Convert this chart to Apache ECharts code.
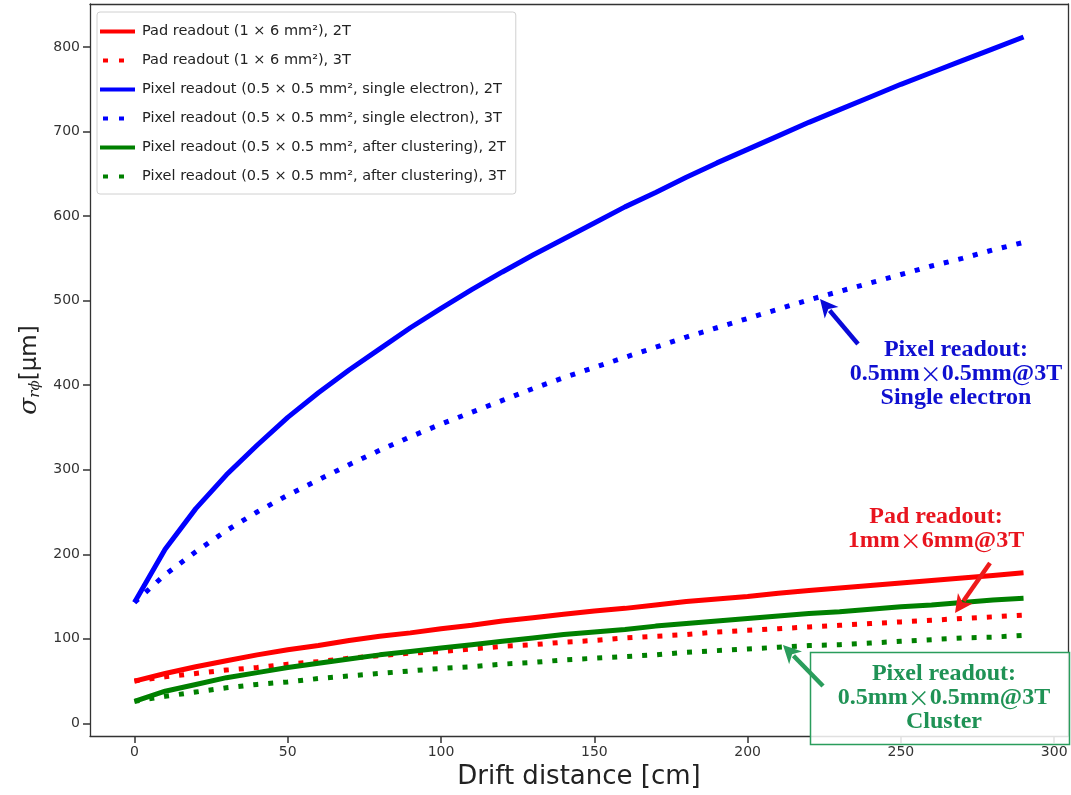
<!DOCTYPE html>
<html><head><meta charset="utf-8">
<script src="https://cdn.jsdelivr.net/npm/echarts@6/dist/echarts.min.js"></script>
<style>html,body{margin:0;padding:0;background:#fff}#c{width:1071px;height:795px}</style>
</head><body><div id="c"></div>
<script>
const driftX = [0,10,20,30,40,50,60,70,80,90,100,110,120,130,140,150,160,170,180,190,200,210,220,230,240,250,260,270,280,290];
const pad2T = [50,59,67,74,81,87,92,98,103,107,112,116,121,125,129,133,136,140,144,147,150,154,157,160,163,166,169,172,175,178];
const pad3T = [50,55,59,63,66,70,73,77,80,83,85,88,91,93,96,98,101,103,105,108,110,112,114,116,118,120,122,124,126,128];
const pixSingle2T = [143,206,254,294,329,362,391,418,443,468,491,513,534,554,573,592,611,628,646,663,679,695,711,726,741,756,770,784,798,812];
const pixSingle3T = [143,176,203,228,250,270,288,306,323,339,354,368,382,396,409,421,433,445,457,468,479,490,501,511,521,531,541,550,560,569];
const pixClus2T = [26,38,46,54,60,66,71,76,81,85,89,93,97,101,105,108,111,115,118,121,124,127,130,132,135,138,140,143,146,148];
const pixClus3T = [26,32,37,42,46,49,53,56,59,62,65,67,70,72,75,77,79,81,84,86,88,90,92,93,95,97,99,101,102,104];
const seriesNames = [
  'Pad readout (1 × 6 mm²), 2T',
  'Pad readout (1 × 6 mm²), 3T',
  'Pixel readout (0.5 × 0.5 mm², single electron), 2T',
  'Pixel readout (0.5 × 0.5 mm², single electron), 3T',
  'Pixel readout (0.5 × 0.5 mm², after clustering), 2T',
  'Pixel readout (0.5 × 0.5 mm², after clustering), 3T'
];
const xTicks = [0,50,100,150,200,250,300];
const yTicks = [0,100,200,300,400,500,600,700,800];

const colors = ['#ff0000','#ff0000','#0000ff','#0000ff','#008000','#008000'];
const dashed = [false,true,false,true,false,true];
const values = [pad2T,pad3T,pixSingle2T,pixSingle3T,pixClus2T,pixClus3T];

const solidIcon = 'path://M0,0h35v4h-35z';
const dotIcon = 'path://M0,0M35,4M3,0h5v4h-5zM19,0h5v4h-5z';

const chart = echarts.init(document.getElementById('c'), null, {renderer:'canvas'});

const series = values.map((v,i)=>({
  name: seriesNames[i], type:'line', symbol:'none', smooth:false,
  xAxisIndex:0, yAxisIndex:0,
  data: driftX.map((x,j)=>[x, v[j]]),
  lineStyle:{color:colors[i], width:5, type: dashed[i] ? [5,10] : 'solid', cap:'butt'},
  itemStyle:{color:colors[i]},
  z: 2+i, silent:true, animation:false
}));

function arrow(tail, tip, color, z){
  const dx = tip[0]-tail[0], dy = tip[1]-tail[1];
  const L = Math.hypot(dx,dy), ux = dx/L, uy = dy/L;
  const hl = 18, hw = 9;
  const bx = tip[0]-ux*hl, by = tip[1]-uy*hl;
  return [
    {type:'line', z:z||55, shape:{x1:tail[0],y1:tail[1],x2:bx+ux*3,y2:by+uy*3}, style:{stroke:color, lineWidth:4.5}},
    {type:'polygon', z:z||55, shape:{points:[[tip[0],tip[1]],[bx-uy*hw,by+ux*hw],[bx+ux*5,by+uy*5],[bx+uy*hw,by-ux*hw]]}, style:{fill:color}}
  ];
}
const annFont = 'bold 24px "Liberation Serif","Times New Roman",serif';
const crossRich = {fontFamily:'"Noto Sans CJK SC"', fontWeight:'normal', fontSize:22};
function annText(x, y, text, color, z){
  return {type:'text', x:x, y:y, z:z||60, style:{text:text, font:annFont, fill:color, align:'center', verticalAlign:'top', lineHeight:24,
    rich:{x:Object.assign({fill:color, lineHeight:24}, crossRich)}}};
}
const graphics = [].concat(
  arrow([858,344],[820,299],'#0a0ad8'),
  arrow([990,563],[955,613],'#ee1a1a'),
  arrow([823,686],[783,645],'#2a9d5c'),
  [
    annText(956, 338, 'Pixel readout:\n0.5mm{x|×}0.5mm@3T\nSingle electron', '#0f0fd0'),
    annText(936, 505, 'Pad readout:\n1mm{x|×}6mm@3T', '#e8141e'),
    {type:'rect', shape:{x:810.5,y:652.5,width:259,height:92}, style:{fill:'rgba(255,255,255,0.85)', stroke:'#2a9d5c', lineWidth:1.5}, z:50},
    annText(944, 662, 'Pixel readout:\n0.5mm{x|×}0.5mm@3T\nCluster', '#1f9255')
  ]
);

const frameAxis = {axisLine:{show:true, onZero:false, lineStyle:{color:'#333', width:1.3}}, axisTick:{show:false}, axisLabel:{show:false}, splitLine:{show:false}};

chart.setOption({
  animation:false,
  backgroundColor:'#ffffff',
  grid:{left:90, right:3, top:4, bottom:58},
  legend:{
    orient:'vertical', left:97, top:12, padding:[12,10,10,3], itemGap:14, itemWidth:35, itemHeight:4,
    backgroundColor:'rgba(255,255,255,0.85)', borderColor:'#d0d0d0', borderWidth:1, borderRadius:3,
    textStyle:{fontFamily:'DejaVu Sans', fontSize:14.5, color:'#222', padding:[0,0,0,2]},
    data: seriesNames.map((n,i)=>({name:n, icon: dashed[i] ? dotIcon : solidIcon}))
  },
  xAxis:[{
    type:'value', min:-14.5, max:304.5, position:'bottom',
    name:'Drift distance [cm]', nameLocation:'middle', nameGap:28,
    nameTextStyle:{fontFamily:'DejaVu Sans', fontSize:26, color:'#222'},
    axisLine:{show:true, onZero:false, lineStyle:{color:'#333', width:1.3}}, splitLine:{show:false},
    axisTick:{show:true, length:7, lineStyle:{color:'#333', width:1.5}, customValues:xTicks},
    axisLabel:{customValues:xTicks, fontFamily:'DejaVu Sans', fontSize:14, color:'#333', margin:9}
  }, Object.assign({type:'value', min:-14.5, max:304.5, position:'top'}, frameAxis)],
  yAxis:[{
    type:'value', min:-15, max:851, position:'left',
    name:'{s|σ}{b|rϕ}{n|[μm]}', nameLocation:'middle', nameGap:46, nameRotate:90,
    nameTextStyle:{fontFamily:'DejaVu Sans', fontSize:22, color:'#222',
      rich:{
        s:{fontFamily:'DejaVu Serif', fontStyle:'italic', fontSize:25, color:'#222'},
        b:{fontFamily:'DejaVu Serif', fontStyle:'italic', fontSize:15, color:'#222', padding:[10,0,0,0]},
        n:{fontFamily:'DejaVu Sans', fontSize:23, color:'#222'}
      }},
    axisLine:{show:true, onZero:false, lineStyle:{color:'#333', width:1.3}}, splitLine:{show:false},
    axisTick:{show:true, length:7, lineStyle:{color:'#333', width:1.5}, customValues:yTicks},
    axisLabel:{customValues:yTicks, fontFamily:'DejaVu Sans', fontSize:14, color:'#333', margin:10}
  }, Object.assign({type:'value', min:-15, max:851, position:'right'}, frameAxis)],
  series: series,
  graphic: graphics
});
</script></body></html>
